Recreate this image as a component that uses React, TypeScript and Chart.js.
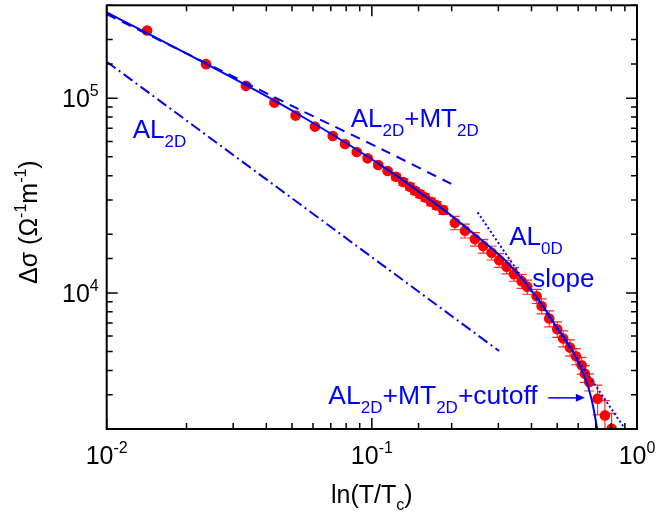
import React, { useEffect, useRef } from 'react';
import { Chart, registerables } from 'chart.js';

Chart.register(...registerables);

// ---- measured data: Δσ vs ln(T/Tc) ----
const dataX = [0.0142, 0.0237, 0.0335, 0.0429, 0.0516, 0.061, 0.0712, 0.0792, 0.0877, 0.0964, 0.1057, 0.1147,
  0.1233, 0.1314, 0.1392, 0.1454, 0.1518, 0.1586, 0.1671, 0.1755, 0.1858, 0.2057, 0.2245, 0.2447, 0.263,
  0.2829, 0.3022, 0.3224, 0.3434, 0.3671, 0.3855, 0.4182, 0.4367, 0.4666, 0.5002, 0.5268, 0.5585, 0.5884,
  0.6182, 0.636, 0.6603, 0.7101, 0.7567, 0.802];
const dataY = [222800, 149600, 115700, 94900, 81400, 71450, 63950, 58200, 52950, 49100, 45400, 42300,
  39530, 37100, 35100, 33470, 32190, 30950, 29390, 28150, 26640, 22910, 20840, 18890, 17390,
  16060, 14730, 13610, 12480, 11490, 10740, 9620, 8560, 7385, 6506, 5828, 5238, 4725,
  4248, 3849, 3485, 2863, 2349, 2007];
const dataErr = [3000, 2500, 2000, 1800, 1600, 1400, 1300, 1200, 1100, 1100, 1000, 1000,
  1500, 1400, 1400, 1300, 1300, 1300, 1300, 1300, 1300, 1800, 1700, 1500, 1400,
  1300, 1200, 1100, 1000, 950, 900, 800, 750, 700, 600, 550, 500, 450,
  420, 380, 350, 500, 450, 400];

// ---- model curves ----
const cutoffX = [0.01, 0.0237, 0.052, 0.1204, 0.1609, 0.1858, 0.2412, 0.3224, 0.4367, 0.4831, 0.5745, 0.6546, 0.6838, 0.7078];
const cutoffY = [276000, 150100, 83700, 41140, 30950, 26850, 20220, 14440, 8800, 7094, 4972, 3285, 2592, 2000];
const almtX = [0.01, 0.0275, 0.052, 0.1104, 0.2009];
const almtY = [270000, 137000, 88900, 54200, 36100];
const al2dX = [0.01, 0.302];
const al2dY = [154000, 5030];
const al0dX = [0.2506, 0.9];
const al0dY = [25900, 2007];

// ---- axis tick labels ----
const xMajor = [0.01, 0.1, 1];
const xExp = ['-2', '-1', '0'];
const yMajor = [1e4, 1e5];
const yExp = ['4', '5'];

const FONT = '"Liberation Sans", Arial, sans-serif';
const BLUE = '#0000ff';
const LINE_BLUE = '#0000ee';
const RED = '#ff0000';

type Seg = [string, number, number];

function drawRich(ctx: CanvasRenderingContext2D, segs: Seg[], x: number, y: number, align: 'left' | 'center' | 'right') {
  let w = 0;
  for (const [t, s] of segs) {
    ctx.font = `${s}px ${FONT}`;
    w += ctx.measureText(t).width;
  }
  let cx = align === 'left' ? x : align === 'center' ? x - w / 2 : x - w;
  ctx.textAlign = 'left';
  ctx.textBaseline = 'alphabetic';
  for (const [t, s, dy] of segs) {
    ctx.font = `${s}px ${FONT}`;
    ctx.fillText(t, cx, y + dy);
    cx += ctx.measureText(t).width;
  }
}

const pts = (xs: number[], ys: number[]) => xs.map((x, i) => ({ x, y: ys[i] }));

const overlay = {
  id: 'overlay',
  beforeDatasetsDraw(chart: any) {
    const { ctx, chartArea: a, scales } = chart;
    const xs = scales.x, ys = scales.y;
    ctx.save();
    ctx.beginPath();
    ctx.rect(a.left, a.top, a.right - a.left, a.bottom - a.top);
    ctx.clip();
    ctx.strokeStyle = '#ff2a2a';
    ctx.lineWidth = 1.2;
    dataX.forEach((xv, i) => {
      const e = dataErr[i];
      const px = xs.getPixelForValue(xv);
      const p1 = ys.getPixelForValue(dataY[i] + e);
      const p2 = ys.getPixelForValue(dataY[i] - e);
      ctx.beginPath();
      ctx.moveTo(px, p1); ctx.lineTo(px, p2);
      ctx.moveTo(px - 5, p1); ctx.lineTo(px + 5, p1);
      ctx.moveTo(px - 5, p2); ctx.lineTo(px + 5, p2);
      ctx.stroke();
    });
    ctx.restore();
  },
  afterDraw(chart: any) {
    const { ctx, chartArea: a, scales } = chart;
    const xs = scales.x, ys = scales.y;
    ctx.save();
    // ticks
    ctx.strokeStyle = '#000';
    ctx.lineWidth = 1.5;
    const isMajor = (v: number) => Math.abs(Math.log10(v) - Math.round(Math.log10(v))) < 1e-6;
    for (const t of xs.ticks) {
      const px = xs.getPixelForValue(t.value);
      const len = isMajor(t.value) ? 11 : 6;
      ctx.beginPath();
      ctx.moveTo(px, a.bottom); ctx.lineTo(px, a.bottom - len);
      ctx.moveTo(px, a.top); ctx.lineTo(px, a.top + len);
      ctx.stroke();
    }
    for (const t of ys.ticks) {
      const py = ys.getPixelForValue(t.value);
      const len = isMajor(t.value) ? 11 : 6;
      ctx.beginPath();
      ctx.moveTo(a.left, py); ctx.lineTo(a.left + len, py);
      ctx.moveTo(a.right, py); ctx.lineTo(a.right - len, py);
      ctx.stroke();
    }
    // frame
    ctx.lineWidth = 2;
    ctx.strokeRect(a.left, a.top, a.right - a.left, a.bottom - a.top);

    // tick labels
    ctx.fillStyle = '#000';
    xMajor.forEach((v, i) => {
      drawRich(ctx, [['10', 25, 0], [xExp[i], 16, -11]], xs.getPixelForValue(v), a.bottom + 35, 'center');
    });
    yMajor.forEach((v, i) => {
      drawRich(ctx, [['10', 25, 0], [yExp[i], 16, -11]], a.left - 8, ys.getPixelForValue(v) + 9, 'right');
    });
    // axis titles
    drawRich(ctx, [['ln(T/T', 25, 0], ['c', 16, 7], [')', 25, 0]], (a.left + a.right) / 2, a.bottom + 74, 'center');
    ctx.save();
    ctx.translate(a.left - 70, (a.top + a.bottom) / 2 + 5);
    ctx.rotate(-Math.PI / 2);
    drawRich(ctx, [['\u0394\u03c3 (\u03a9', 25, 0], ['-1', 16, -11], ['m', 25, 0], ['-1', 16, -11], [')', 25, 0]], 0, 0, 'center');
    ctx.restore();

    // annotations
    ctx.fillStyle = BLUE;
    const at = (x: number, y: number) => [xs.getPixelForValue(x), ys.getPixelForValue(y)];
    let [tx, ty] = at(0.01253, 62500);
    drawRich(ctx, [['AL', 26, 0], ['2D', 17, 9]], tx, ty, 'left');
    [tx, ty] = at(0.0832, 71450);
    drawRich(ctx, [['AL', 26, 0], ['2D', 17, 9], ['+MT', 26, 0], ['2D', 17, 9]], tx, ty, 'left');
    [tx, ty] = at(0.3297, 17600);
    drawRich(ctx, [['AL', 26, 0], ['0D', 17, 9]], tx, ty, 'left');
    [tx, ty] = at(0.4025, 10740);
    drawRich(ctx, [['slope', 26, 0]], tx, ty, 'left');
    [tx, ty] = at(0.0685, 2698);
    drawRich(ctx, [['AL', 26.5, 0], ['2D', 17, 9], ['+MT', 26.5, 0], ['2D', 17, 9], ['+cutoff', 26.5, 0]], tx, ty, 'left');
    // arrow
    const [ax1, ay] = at(0.4625, 2890);
    const [ax2] = at(0.636, 2890);
    ctx.strokeStyle = LINE_BLUE;
    ctx.lineWidth = 1.5;
    ctx.beginPath();
    ctx.moveTo(ax1, ay); ctx.lineTo(ax2 - 6, ay);
    ctx.stroke();
    ctx.fillStyle = LINE_BLUE;
    ctx.beginPath();
    ctx.moveTo(ax2, ay); ctx.lineTo(ax2 - 9, ay - 4); ctx.lineTo(ax2 - 9, ay + 4); ctx.closePath();
    ctx.fill();
    ctx.restore();
  },
};

export default function App() {
  const ref = useRef<HTMLCanvasElement>(null);
  useEffect(() => {
    document.body.style.margin = '0';
    const chart = new Chart(ref.current!, {
      type: 'scatter',
      data: {
        datasets: [
          {
            label: 'AL2D+MT2D+cutoff', data: pts(cutoffX, cutoffY), showLine: true, pointRadius: 0,
            borderColor: LINE_BLUE, borderWidth: 2, cubicInterpolationMode: 'monotone', clip: 0, order: 1,
          } as any,
          {
            label: 'AL2D+MT2D', data: pts(almtX, almtY), showLine: true, pointRadius: 0,
            borderColor: LINE_BLUE, borderWidth: 2, borderDash: [10, 7], tension: 0.3, clip: 0, order: 2,
          },
          {
            label: 'AL2D', data: pts(al2dX, al2dY), showLine: true, pointRadius: 0,
            borderColor: LINE_BLUE, borderWidth: 2, borderDash: [11, 4, 2, 4], clip: 0, order: 3,
          },
          {
            label: 'AL0D slope', data: pts(al0dX, al0dY), showLine: true, pointRadius: 0,
            borderColor: LINE_BLUE, borderWidth: 2, borderDash: [2, 2.5], clip: 0, order: 4,
          },
          {
            label: 'data', data: pts(dataX, dataY), showLine: false, pointRadius: 5.3,
            pointBackgroundColor: RED, pointBorderColor: RED, pointBorderWidth: 0, clip: 0, order: 10,
          },
        ],
      },
      options: {
        responsive: false,
        animation: false,
        events: [],
        layout: { padding: { left: 106.7, right: 19, top: 5, bottom: 92 } },
        plugins: { legend: { display: false }, tooltip: { enabled: false } },
        scales: {
          x: {
            type: 'logarithmic', min: 0.01, max: 1, display: false,
            ticks: { display: false, autoSkip: false }, grid: { display: false },
          },
          y: {
            type: 'logarithmic', min: 2000, max: 300000, display: false,
            ticks: { display: false, autoSkip: false }, grid: { display: false },
          },
        },
      },
      plugins: [overlay],
    });
    return () => chart.destroy();
  }, []);
  return <canvas ref={ref} width={656} height={521} style={{ display: 'block' }} />;
}
